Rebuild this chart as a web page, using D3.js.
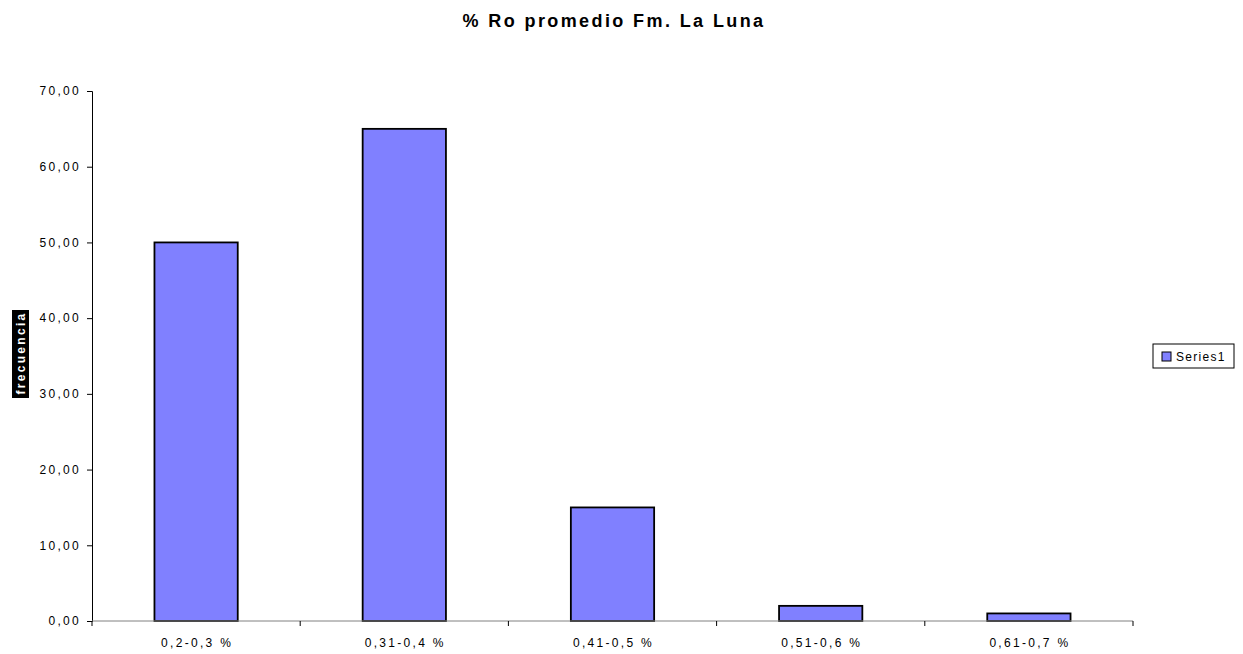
<!DOCTYPE html>
<html>
<head>
<meta charset="utf-8">
<script src="https://cdn.jsdelivr.net/npm/d3@7"></script>
<style>
  body { margin: 0; background: #fff; }
  svg { display: block; font-family: "Liberation Sans", Arial, sans-serif; }
</style>
</head>
<body>
<svg id="chart" width="1243" height="654"></svg>
<script>
// Frequency of average vitrinite reflectance (%Ro) ranges
const categories = ["0,2-0,3 %", "0,31-0,4 %", "0,41-0,5 %", "0,51-0,6 %", "0,61-0,7 %"];
const values = [50, 65, 15, 2, 1];
const yTicks = [0, 10, 20, 30, 40, 50, 60, 70];
const seriesName = "Series1";
const titleText = "% Ro promedio Fm. La Luna";
const yLabel = "frecuencia";

const svg = d3.select("#chart");
const plot = { left: 92, right: 1133, top: 91, bottom: 621 };

const x = d3.scaleBand().domain(categories).range([plot.left, plot.right]).padding(0);
const y = d3.scaleLinear().domain([0, 70]).range([plot.bottom, plot.top]);
const barW = x.bandwidth() / 2.5;

// Title
svg.append("text")
  .attr("x", 614).attr("y", 27)
  .attr("text-anchor", "middle")
  .attr("font-size", 18).attr("font-weight", "bold")
  .attr("letter-spacing", 2.4)
  .text(titleText);

// Bars
svg.append("g").selectAll("rect").data(values).join("rect")
  .attr("x", (d, i) => x(categories[i]) + (x.bandwidth() - barW) / 2)
  .attr("y", d => y(d))
  .attr("width", barW)
  .attr("height", d => y(0) - y(d))
  .attr("fill", "#8080FF")
  .attr("stroke", "#000")
  .attr("stroke-width", 1.8);

// Y axis
const yAxis = svg.append("g")
  .attr("transform", `translate(${plot.left},0)`)
  .call(d3.axisLeft(y).tickValues(yTicks).tickSize(5).tickPadding(6)
    .tickFormat(d => d3.format(".2f")(d).replace(".", ",")));
yAxis.select(".domain").attr("stroke", "#000");
yAxis.selectAll(".tick line").attr("stroke", "#000");
yAxis.selectAll("text").attr("font-size", 12).attr("fill", "#000")
  .attr("letter-spacing", 2.3)
  .attr("font-family", "'Liberation Sans', Arial, sans-serif");

// X axis with ticks at category boundaries
const xAxisG = svg.append("g").attr("transform", `translate(0,${plot.bottom})`);
xAxisG.append("line")
  .attr("x1", plot.left).attr("x2", plot.right)
  .attr("stroke", "#808080").attr("stroke-width", 1);
const bounds = categories.map(c => x(c)).concat([plot.right]);
xAxisG.selectAll("line.tk").data(bounds).join("line")
  .attr("class", "tk")
  .attr("x1", d => d).attr("x2", d => d)
  .attr("y1", 0).attr("y2", 5)
  .attr("stroke", "#000");
xAxisG.selectAll("text").data(categories).join("text")
  .attr("x", d => x(d) + x.bandwidth() / 2 + 1)
  .attr("y", 26)
  .attr("text-anchor", "middle")
  .attr("font-size", 12)
  .attr("letter-spacing", 2.3)
  .text(d => d);

// Y axis title: white bold text on black background, rotated
const yl = svg.append("g").attr("transform", "translate(20.5,354) rotate(-90)");
yl.append("rect")
  .attr("x", -44).attr("y", -8.5)
  .attr("width", 88).attr("height", 17)
  .attr("fill", "#000");
yl.append("text")
  .attr("x", 1)
  .attr("text-anchor", "middle")
  .attr("dy", "0.36em")
  .attr("font-size", 12).attr("font-weight", "bold")
  .attr("fill", "#fff")
  .attr("letter-spacing", 2.3)
  .text(yLabel);

// Legend
const lg = svg.append("g").attr("transform", "translate(1153,344)");
lg.append("rect").attr("width", 81).attr("height", 24)
  .attr("fill", "#fff").attr("stroke", "#000").attr("stroke-width", 1);
lg.append("rect").attr("x", 9).attr("y", 8).attr("width", 9).attr("height", 9)
  .attr("fill", "#8080FF").attr("stroke", "#000").attr("stroke-width", 1);
lg.append("text").attr("x", 23).attr("y", 17)
  .attr("font-size", 12).attr("letter-spacing", 1.3).text(seriesName);
</script>
</body>
</html>
